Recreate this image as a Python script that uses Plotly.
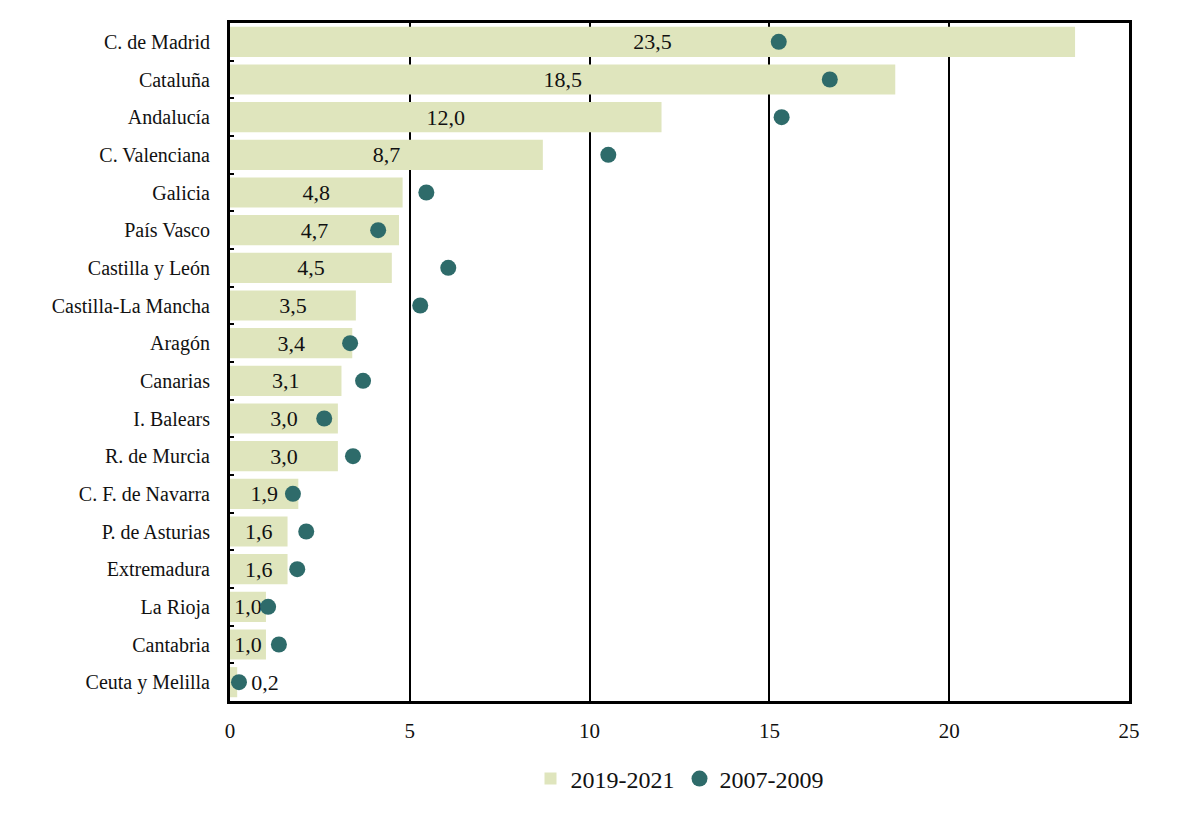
import plotly.graph_objects as go

regions = ["C. de Madrid", "Cataluña", "Andalucía", "C. Valenciana", "Galicia", "País Vasco",
           "Castilla y León", "Castilla-La Mancha", "Aragón", "Canarias", "I. Balears",
           "R. de Murcia", "C. F. de Navarra", "P. de Asturias", "Extremadura", "La Rioja",
           "Cantabria", "Ceuta y Melilla"]
v_2019_2021 = [23.5, 18.5, 12.0, 8.7, 4.8, 4.7, 4.5, 3.5, 3.4, 3.1, 3.0, 3.0, 1.9, 1.6, 1.6, 1.0, 1.0, 0.2]
v_2007_2009 = [15.26, 16.68, 15.34, 10.52, 5.46, 4.12, 6.07, 5.29, 3.34, 3.70, 2.62, 3.42, 1.75, 2.12, 1.87, 1.06, 1.36, 0.25]
x_ticks = [0, 5, 10, 15, 20, 25]

FONT = "Liberation Serif"
labels = [f"{v:.1f}".replace(".", ",") if v >= 0.5 else "  " + f"{v:.1f}".replace(".", ",")
          for v in v_2019_2021]
positions = ["inside" if v >= 0.5 else "outside" for v in v_2019_2021]

fig = go.Figure()
fig.add_trace(go.Bar(
    y=regions, x=v_2019_2021, orientation="h", name="2019-2021",
    marker=dict(color="#dfe5bd", line=dict(width=0)),
    width=0.8,
    text=labels, textposition=positions, insidetextanchor="middle",
    textfont=dict(family=FONT, size=22, color="#111111"),
    cliponaxis=False,
))
fig.add_trace(go.Scatter(
    y=regions, x=v_2007_2009, mode="markers", name="2007-2009",
    marker=dict(color="#2e6b6a", size=16, line=dict(width=0)),
))

fig.update_layout(
    width=1190, height=816,
    margin=dict(l=222, r=69, t=15, b=123),
    paper_bgcolor="white", plot_bgcolor="white",
    font=dict(family=FONT, size=20, color="#111111"),
    uniformtext=dict(minsize=22, mode="show"),
    showlegend=True,
    legend=dict(orientation="h", x=0.5, xanchor="center", y=-0.115, yanchor="middle",
                font=dict(family=FONT, size=24), traceorder="normal", itemwidth=30),
    bargap=0.2,
)
fig.update_xaxes(
    range=[0, 25], tickvals=x_ticks, ticktext=[str(t) for t in x_ticks],
    showgrid=True, gridcolor="#000000", gridwidth=1.5,
    zeroline=False, showline=True, linecolor="#000000", linewidth=3, mirror=True,
    ticks="", tickfont=dict(family=FONT, size=21), ticklabelstandoff=9,
    automargin=False,
)
fig.update_yaxes(
    range=[len(regions) - 0.5, -0.5], showgrid=False, zeroline=False,
    showline=True, linecolor="#000000", linewidth=3, mirror=True,
    ticks="inside", tickson="boundaries", ticklen=4, tickwidth=2, tickcolor="#000000",
    tickfont=dict(family=FONT, size=20), ticklabelstandoff=13,
    automargin=False,
)
fig.write_html("out.html")
